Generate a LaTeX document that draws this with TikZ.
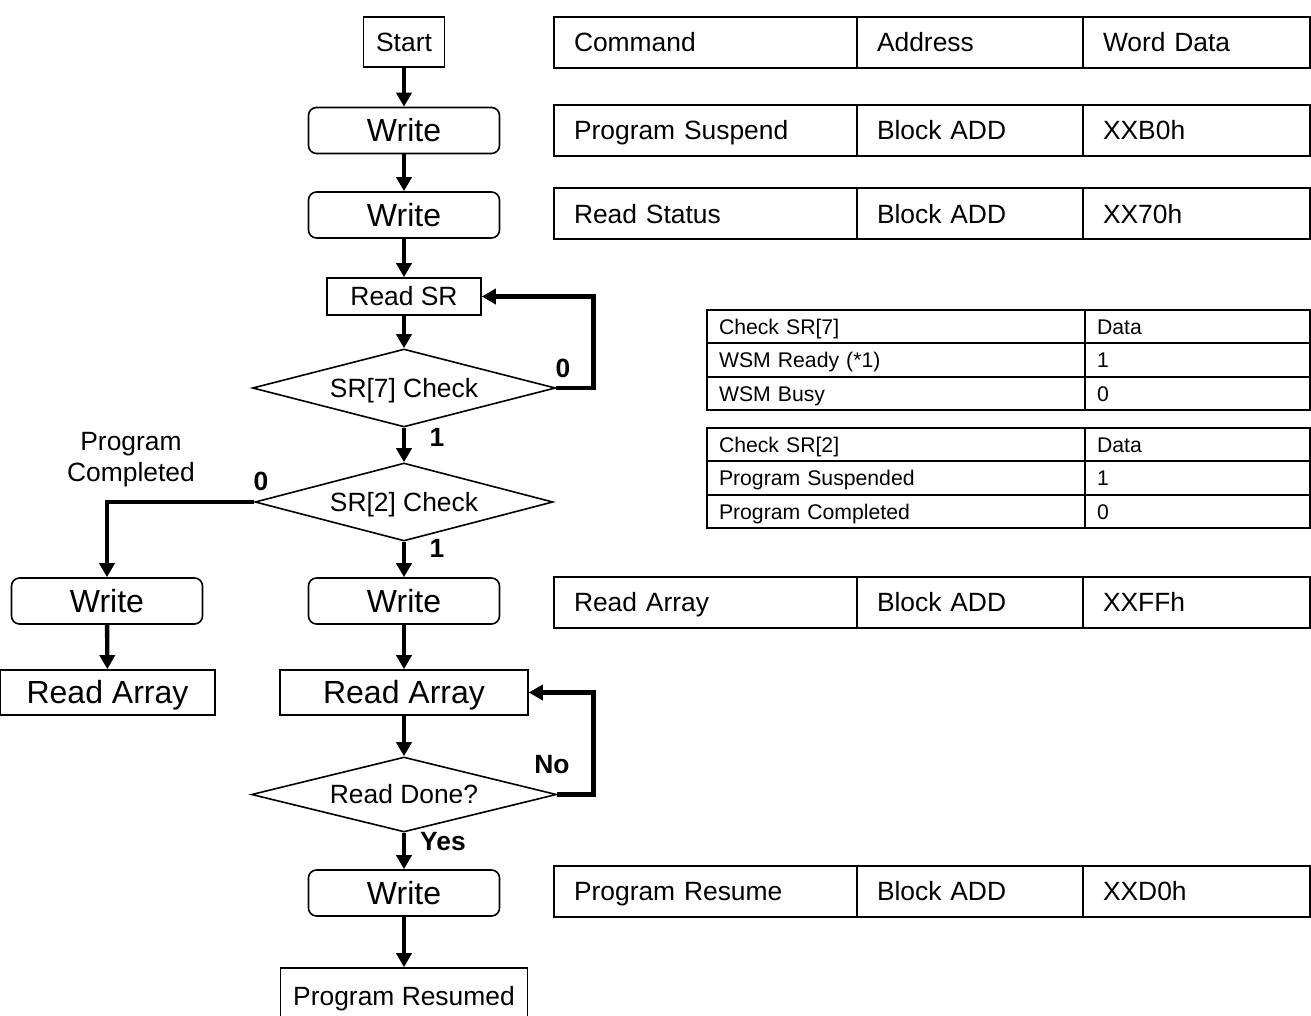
\documentclass[tikz,border=0pt]{standalone}
\usepackage{fontspec}
\setmainfont{Liberation Sans}
\usetikzlibrary{shapes.geometric, positioning, arrows.meta}

\newcommand{\bigtxt}{\fontsize{16}{19}\selectfont}
\newcommand{\midtxt}{\fontsize{13.2}{15.5}\selectfont}
\newcommand{\smalltxt}{\fontsize{10.6}{12.5}\selectfont}

\begin{document}
\begin{tikzpicture}[
    x=0.5pt, y=-0.5pt,
    term/.style={draw, line width=0.8pt, rectangle, inner sep=0pt, text height=9.45pt, text depth=0pt, font=\midtxt},
    writebox/.style={draw, line width=0.8pt, rectangle, rounded corners=4pt, minimum width=95.5pt, minimum height=23pt, inner sep=0pt, text height=11.4pt, text depth=0pt, font=\bigtxt},
    arraybox/.style={draw, line width=0.8pt, rectangle, minimum height=22.5pt, inner sep=0pt, text height=11.4pt, text depth=0pt, font=\bigtxt},
    decision/.style={draw, line width=0.8pt, diamond, aspect=3.9, minimum width=151.5pt, minimum height=39pt, inner sep=0pt, text height=9.45pt, text depth=0pt, font=\midtxt},
    flow/.style={line width=2.2pt, -{Triangle[length=7pt, width=7.5pt]}},
    branch/.style={font=\bfseries\midtxt},
    cmdcell/.style={draw, line width=1pt, outer sep=0pt, minimum height=25.5pt, inner xsep=10pt, inner ysep=0pt, text width=#1, text height=9.45pt, text depth=0pt, align=left, anchor=west, font=\midtxt},
    chkcell/.style={draw, line width=1pt, outer sep=0pt, minimum height=16.75pt, inner xsep=6pt, inner ysep=0pt, text width=#1, text height=7.6pt, text depth=0pt, align=left, anchor=west, font=\smalltxt}
]
    \useasboundingbox (0,0) rectangle (1311,1016);

    % Main flow
    \node[term, minimum width=40.5pt, minimum height=25pt] (start) at (404,42) {Start};
    \node[writebox] (write1) at (404,130.5) {Write};
    \node[writebox] (write2) at (404,215) {Write};
    \node[term, minimum width=77pt, minimum height=18.5pt] (readsr) at (404,296.5) {Read SR};
    \node[decision] (sr7) at (404,388) {SR[7] Check};
    \node[decision, minimum width=149pt] (sr2) at (404,502) {SR[2] Check};
    \node[writebox] (writem) at (404,601) {Write};
    \node[arraybox, minimum width=124pt] (arraym) at (404,692.5) {Read Array};
    \node[decision, minimum width=152.5pt, minimum height=37.5pt] (done) at (404,794.5) {Read Done?};
    \node[writebox] (writeb) at (404,893) {Write};
    \node[term, minimum width=123.5pt, minimum height=28pt] (resumed) at (404,996) {Program Resumed};

    % Completed branch
    \node[writebox] (writel) at (107,601) {Write};
    \node[arraybox, minimum width=107.5pt] (arrayl) at (107.5,692.5) {Read Array};
    \node[align=center, font=\midtxt] (compl) at (131,460) {Program\\Completed};

    % Branch labels
    \node[branch] (sr7no) at (563,368) {0};
    \node[branch] (sr7yes) at (437,437) {1};
    \node[branch] (sr2no) at (261,481) {0};
    \node[branch] (sr2yes) at (437,548) {1};
    \node[branch] (doneno) at (552,765) {No};
    \node[branch] (doneyes) at (443,842) {Yes};

    % Connections
    \draw[flow] (start) -- (write1);
    \draw[flow] (write1) -- (write2);
    \draw[flow] (write2) -- (readsr);
    \draw[flow] (readsr) -- (sr7);
    \draw[flow] (sr7.east) -- ++(37,0) |- (readsr.east);
    \draw[flow] (sr7) -- (sr2);
    \draw[flow] (sr2) -- (writem);
    \draw[flow] (sr2.west) -| (writel.north);
    \draw[flow] (writel) -- (arrayl);
    \draw[flow] (writem) -- (arraym);
    \draw[flow] (arraym) -- (done);
    \draw[flow] (done.east) -- ++(36,0) |- (arraym.east);
    \draw[flow] (done) -- (writeb);
    \draw[flow] (writeb) -- (resumed);

    % Command tables
    \node[cmdcell=131.5pt] (cmdhead) at (554,42.5) {Command};
    \node[cmdcell=93pt, right=0pt of cmdhead] (adrhead) {Address};
    \node[cmdcell=93.5pt, right=0pt of adrhead] (dathead) {Word Data};

    \node[cmdcell=131.5pt] (cmdsusp) at (554,130.5) {Program Suspend};
    \node[cmdcell=93pt, right=0pt of cmdsusp] (adrsusp) {Block ADD};
    \node[cmdcell=93.5pt, right=0pt of adrsusp] (datsusp) {XXB0h};

    \node[cmdcell=131.5pt] (cmdstat) at (554,214) {Read Status};
    \node[cmdcell=93pt, right=0pt of cmdstat] (adrstat) {Block ADD};
    \node[cmdcell=93.5pt, right=0pt of adrstat] (datstat) {XX70h};

    \node[cmdcell=131.5pt] (cmdarr) at (554,602) {Read Array};
    \node[cmdcell=93pt, right=0pt of cmdarr] (adrarr) {Block ADD};
    \node[cmdcell=93.5pt, right=0pt of adrarr] (datarr) {XXFFh};

    \node[cmdcell=131.5pt] (cmdres) at (554,891) {Program Resume};
    \node[cmdcell=93pt, right=0pt of cmdres] (adrres) {Block ADD};
    \node[cmdcell=93.5pt, right=0pt of adrres] (datres) {XXD0h};

    % Status tables
    \node[chkcell=177pt] (chk7head) at (707,326.5) {Check SR[7]};
    \node[chkcell=100.5pt, right=0pt of chk7head] (val7head) {Data};
    \node[chkcell=177pt] (chk7rdy) at (707,360) {WSM Ready (*1)};
    \node[chkcell=100.5pt, right=0pt of chk7rdy] (val7rdy) {1};
    \node[chkcell=177pt] (chk7busy) at (707,393.5) {WSM Busy};
    \node[chkcell=100.5pt, right=0pt of chk7busy] (val7busy) {0};

    \node[chkcell=177pt] (chk2head) at (707,444.5) {Check SR[2]};
    \node[chkcell=100.5pt, right=0pt of chk2head] (val2head) {Data};
    \node[chkcell=177pt] (chk2susp) at (707,478) {Program Suspended};
    \node[chkcell=100.5pt, right=0pt of chk2susp] (val2susp) {1};
    \node[chkcell=177pt] (chk2comp) at (707,511.5) {Program Completed};
    \node[chkcell=100.5pt, right=0pt of chk2comp] (val2comp) {0};
\end{tikzpicture}
\end{document}
